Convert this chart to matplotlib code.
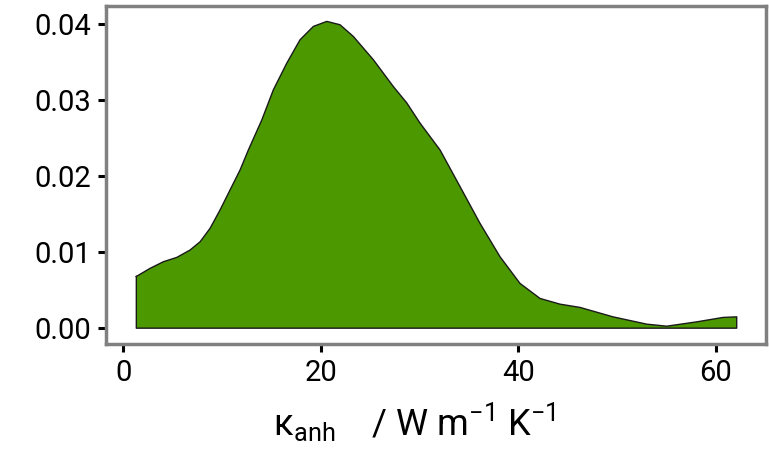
import matplotlib
matplotlib.use("Agg")
import matplotlib.pyplot as plt

plt.rcParams['font.family'] = ['Roboto', 'DejaVu Sans']
plt.rcParams['mathtext.fontset'] = 'custom'
plt.rcParams['mathtext.rm'] = 'Roboto'

# density estimate of kappa_anh
kappa = [1.32, 2.71, 4.06, 5.42, 6.76, 7.78, 8.79, 9.80, 10.81, 11.83, 12.67,
         14.03, 15.20, 16.56, 17.90, 19.25, 20.61, 21.95, 23.30, 25.33, 27.35,
         28.71, 30.06, 32.08, 34.11, 36.13, 38.16, 40.18, 42.21, 44.23, 46.26,
         49.60, 53.01, 55.04, 58.08, 60.74, 62.13]
density = [0.00680, 0.00787, 0.00874, 0.00931, 0.01028, 0.01137, 0.01314, 0.01555,
           0.01818, 0.02082, 0.02345, 0.02740, 0.03136, 0.03487, 0.03794, 0.03970,
           0.04036, 0.03992, 0.03838, 0.03531, 0.03179, 0.02964, 0.02697, 0.02345,
           0.01862, 0.01379, 0.00939, 0.00589, 0.00391, 0.00316, 0.00273, 0.00149,
           0.00053, 0.00026, 0.00083, 0.00141, 0.00149]
xticks = [0, 20, 40, 60]
yticks = [0.00, 0.01, 0.02, 0.03, 0.04]

fig = plt.figure(figsize=(7.69, 4.54), dpi=100)
ax = fig.add_axes([0.138, 0.242, 0.858, 0.745])

ax.fill_between(kappa, 0, density, facecolor='#4B9800', edgecolor='none')
# outline: curve plus the vertical ends and the baseline
ax.plot(kappa + [kappa[-1], kappa[0], kappa[0]],
        density + [0, 0, density[0]], color='#1a1a1a', linewidth=1)

ax.set_xlim(-1.74, 65.09)
ax.set_ylim(-0.0021, 0.0424)
ax.set_xticks(xticks)
ax.set_xticklabels([str(t) for t in xticks])
ax.set_yticks(yticks)
ax.set_yticklabels(['{0:.2f}'.format(t) for t in yticks])
ax.tick_params(direction='out', length=6, width=2.2, color='black',
               labelsize=21, pad=5)

for sp in ax.spines.values():
    sp.set_color('#808080')
    sp.set_linewidth(2.5)

ax.set_xlabel(r'$\mathrm{κ}_{\mathrm{anh}}$    / W m$^{-1}$ K$^{-1}$', fontsize=26)
ax.xaxis.set_label_coords(0.467, -0.165)

fig.savefig('out.png', dpi=100)
